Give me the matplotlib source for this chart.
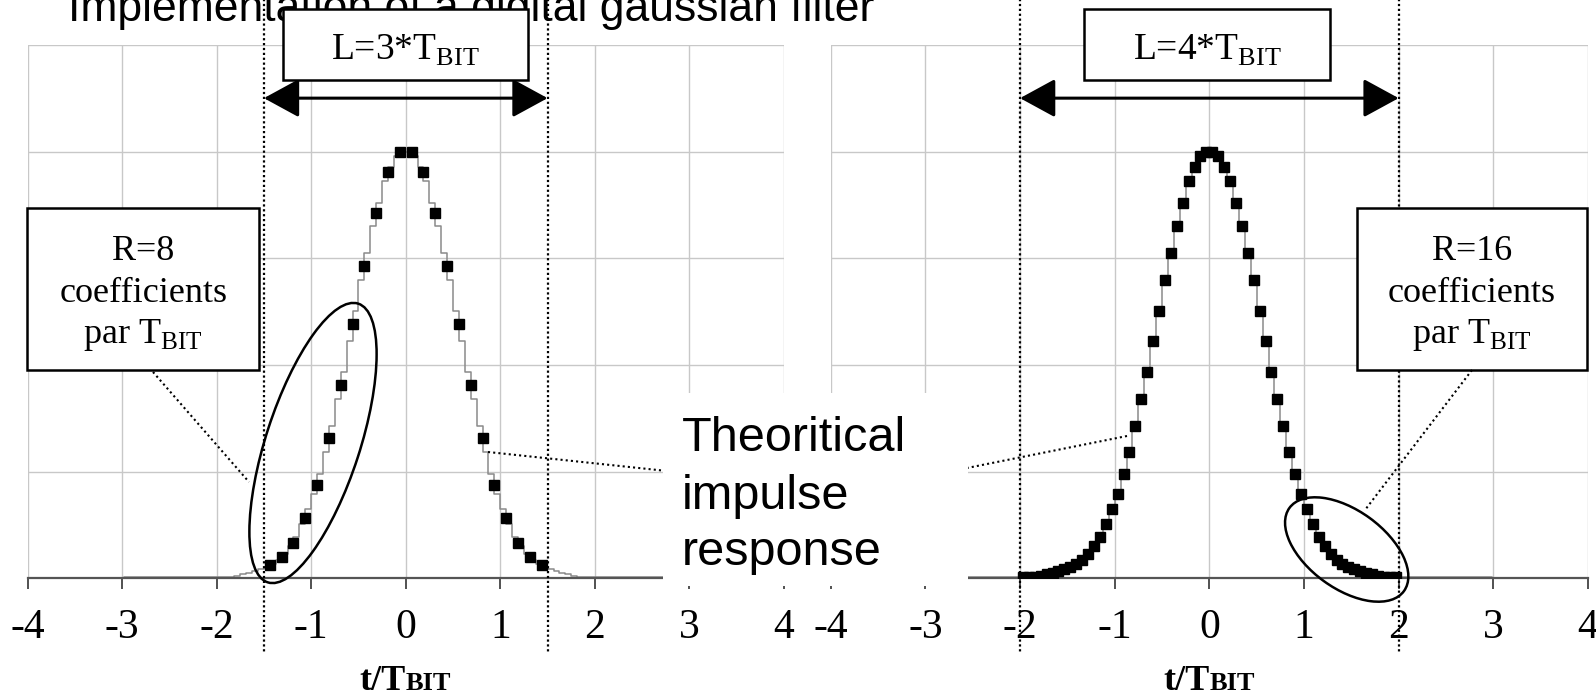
import numpy as np
import matplotlib.pyplot as plt
from matplotlib.patches import Ellipse, Rectangle
from matplotlib.lines import Line2D

plt.rcParams['font.family'] = 'serif'
plt.rcParams['font.serif'] = ['Liberation Serif', 'DejaVu Serif']
plt.rcParams['mathtext.fontset'] = 'custom'
plt.rcParams['mathtext.rm'] = 'Liberation Serif'

# Filter taps: L=3 bits with R=8 taps per bit, and L=4 bits with R=16 taps per bit
R1, L1 = 8, 3
R2, L2 = 16, 4
t1 = (np.arange(R1 * L1) - (R1 * L1 - 1) / 2) / R1
t2 = (np.arange(R2 * L2) - (R2 * L2 - 1) / 2) / R2

h1 = [0.031, 0.051, 0.082, 0.141, 0.219, 0.329, 0.454, 0.596, 0.731, 0.855, 0.952, 0.998,
      0.998, 0.952, 0.855, 0.731, 0.596, 0.454, 0.329, 0.219, 0.141, 0.082, 0.051, 0.031]

h2 = [0.002, 0.003, 0.004, 0.006, 0.009, 0.012, 0.016, 0.021, 0.027, 0.033, 0.043, 0.058,
      0.075, 0.097, 0.128, 0.162, 0.198, 0.245, 0.296, 0.356, 0.420, 0.484, 0.556, 0.626,
      0.698, 0.763, 0.826, 0.880, 0.932, 0.964, 0.990, 1.000,
      1.000, 0.990, 0.964, 0.932, 0.880, 0.826, 0.763, 0.698, 0.626, 0.556, 0.484, 0.420,
      0.356, 0.296, 0.245, 0.198, 0.162, 0.128, 0.097, 0.075, 0.058, 0.043, 0.033, 0.027,
      0.021, 0.016, 0.012, 0.009, 0.006, 0.004, 0.003, 0.002]

# theoretical response, fine staircase padded with zeros out to +-4
theo_t = np.concatenate([[-4.0], t2, [4.0]])
theo_h = np.concatenate([[0.0], h2, [0.0]])

xticks = [-4, -3, -2, -1, 0, 1, 2, 3, 4]

W, H = 1596, 696
fig = plt.figure(figsize=(W / 100, H / 100), dpi=100)


def inch(x, y):
    # pixel position measured from the top-left corner -> inches for dpi_scale_trans
    return (x / 100, (H - y) / 100)


base_y = 578.3
ax_h = 533.5
ax1 = fig.add_axes([27.5 / W, (H - base_y) / H, 756.5 / W, ax_h / H])
ax2 = fig.add_axes([830.7 / W, (H - base_y) / H, 757.3 / W, ax_h / H])

panels = [(ax1, t1, h1, L1, R1), (ax2, t2, h2, L2, R2)]
for ax, t, h, L, R in panels:
    ax.plot(theo_t, theo_h, color='#8a8a8a', lw=1.1, drawstyle='steps-mid', zorder=2)
    ax.plot(t, h, 's', color='black', ms=7, zorder=3)
    ax.set_xlim(-4, 4)
    ax.set_ylim(0, 1.25)
    ax.set_xticks(xticks)
    ax.set_xticklabels([str(v) for v in xticks])
    ax.set_yticks(np.arange(0, 1.26, 0.25))
    ax.grid(True, color='#c8c8c8', lw=1)
    ax.set_axisbelow(True)
    for s in ['top', 'right', 'left']:
        ax.spines[s].set_visible(False)
    ax.spines['bottom'].set_color('#555555')
    ax.spines['bottom'].set_linewidth(1.6)
    ax.tick_params(axis='y', length=0, labelleft=False)
    ax.tick_params(axis='x', direction='out', length=8, width=1.2, color='#333333',
                   labelsize=30, pad=14)

    # span of the filter: dotted limits and double arrow
    xt = ax.get_xaxis_transform()
    for x in (-L / 2, L / 2):
        ax.plot([x, x], [1.09, -0.138], transform=xt, clip_on=False, color='black',
                lw=1.6, ls=(0, (1, 1.2)), zorder=6)
    ax.annotate('', xy=(-L / 2, 0.9), xytext=(L / 2, 0.9), xycoords=xt, textcoords=xt,
                arrowprops=dict(arrowstyle='<|-|>,head_length=0.55,head_width=0.3',
                                mutation_scale=40, lw=2.2, color='black',
                                shrinkA=0, shrinkB=0), zorder=6)

    # x label t/T_BIT
    ax.text(0, -0.209, 't/T', transform=xt, ha='right', va='baseline',
            fontsize=26, fontweight='bold')
    ax.text(0, -0.209, 'BIT', transform=xt, ha='left', va='baseline',
            fontsize=19, fontweight='bold')

tr = fig.dpi_scale_trans

fig.text(*inch(68, 21), 'Implementation of a digital gaussian filter', transform=tr,
         ha='left', va='baseline', fontsize=32, family='Liberation Sans', zorder=6.5)

# L = ... boxes
for (x0, x1), L in [((283, 528), L1), ((1084, 1330), L2)]:
    fig.add_artist(Rectangle(inch(x0, 80), (x1 - x0) / 100, 0.71, transform=tr,
                             facecolor='white', edgecolor='black', lw=1.8, zorder=7))
    fig.text(*inch((x0 + x1) / 2, 59.5), r'L=%d*T$_{\mathrm{BIT}}$' % L, transform=tr,
             ha='center', va='baseline', fontsize=27, zorder=8)

# R = ... boxes
for (x0, x1), R in [((27.3, 259.3), R1), ((1356.7, 1587.3), R2)]:
    fig.add_artist(Rectangle(inch(x0, 370), (x1 - x0) / 100, 1.617, transform=tr,
                             facecolor='white', edgecolor='black', lw=1.8, zorder=7))
    cx = (x0 + x1) / 2
    for y, s in [(260, 'R=%d' % R), (301.7, 'coefficients'),
                 (343.3, r'par T$_{\mathrm{BIT}}$')]:
        fig.text(*inch(cx, y), s, transform=tr, ha='center', va='baseline',
                 fontsize=26, zorder=8)

# ellipses around the sampled tails
fig.add_artist(Ellipse(inch(313, 443), 2.93, 0.94, angle=72, transform=tr,
                       fill=False, edgecolor='black', lw=1.8, zorder=7))
fig.add_artist(Ellipse(inch(1346.7, 549.5), 1.415, 0.78, angle=-36, transform=tr,
                       fill=False, edgecolor='black', lw=1.8, zorder=7))

# dotted leader lines
leaders = [((153, 372), (249, 482)),
           ((1472, 370), (1365, 510)),
           ((488, 452), (667, 471)),
           ((1127, 436), (967, 468))]
for p0, p1 in leaders:
    (xa, ya), (xb, yb) = inch(*p0), inch(*p1)
    fig.add_artist(Line2D([xa, xb], [ya, yb], transform=tr, color='black', lw=1.5,
                          ls=(0, (1, 1.5)), zorder=7))

# label for the theoretical curve, on a white patch between the panels
fig.add_artist(Rectangle(inch(663, 586), 3.05, 1.93, transform=tr,
                         facecolor='white', edgecolor='none', zorder=7))
for y, s in [(451, 'Theoritical'), (509, 'impulse'), (565, 'response')]:
    fig.text(*inch(682, y), s, transform=tr, ha='left', va='baseline', fontsize=35,
             family='Liberation Sans', zorder=8)

fig.savefig('out.png', dpi=100)
